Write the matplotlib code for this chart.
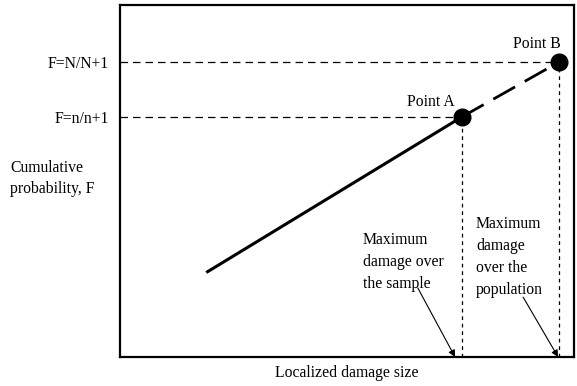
import matplotlib
matplotlib.use("Agg")
import matplotlib.pyplot as plt

plt.rcParams["font.family"] = ["Liberation Serif", "DejaVu Serif"]
plt.rcParams["font.size"] = 11.3

# localized damage size / cumulative probability (normalised axes 0..1)
fit_x = [0.19, 0.753]
fit_y = [0.24, 0.682]
extrap_x = [0.753, 0.967]
extrap_y = [0.682, 0.838]
point_x = [0.753, 0.967]
point_y = [0.682, 0.838]
point_names = ["Point A", "Point B"]
f_labels = ["F=n/n+1", "F=N/N+1"]

fig = plt.figure(figsize=(5.77, 3.86), dpi=100)
ax = fig.add_axes([120 / 577, 29 / 386, 454 / 577, 352 / 386])
ax.set_xlim(0, 1)
ax.set_ylim(0, 1)

# guide lines
for px, py in zip(point_x, point_y):
    ax.plot([0, px], [py, py], color="black", lw=0.9, dashes=(6, 4))
    ax.plot([px, px], [0, py], color="black", lw=0.9, dashes=(3, 3))

ax.plot(fit_x, fit_y, color="black", lw=2.2, solid_capstyle="butt")
ax.plot(extrap_x, extrap_y, color="black", lw=2.0, dashes=(9, 4))
ax.plot(point_x, point_y, "o", color="black", ms=12, zorder=5)

ax.text(0.685, 0.724, point_names[0], ha="center", va="center")
ax.text(0.918, 0.89, point_names[1], ha="center", va="center")

ax.text(0.535, 0.270, "Maximum\ndamage over\nthe sample",
        ha="left", va="center", linespacing=1.52)
ax.text(0.784, 0.284, "Maximum\ndamage\nover the\npopulation",
        ha="left", va="center", linespacing=1.52)

arrow = dict(arrowstyle="-|>", color="black", lw=0.8, mutation_scale=10,
             shrinkA=0, shrinkB=0)
ax.annotate("", xy=(0.738, 0.0), xytext=(0.656, 0.196), arrowprops=arrow)
ax.annotate("", xy=(0.965, 0.0), xytext=(0.888, 0.170), arrowprops=arrow)

ax.set_xticks([])
ax.set_yticks(point_y)
ax.set_yticklabels(f_labels)
ax.tick_params(axis="y", length=0, pad=8)
for s in ax.spines.values():
    s.set_linewidth(1.6)

ax.set_xlabel("Localized damage size", labelpad=6)
fig.text(10 / 577, 1 - 178.5 / 386, "Cumulative\nprobability, F",
         ha="left", va="center", linespacing=1.45)

fig.savefig("out.png", dpi=100)
